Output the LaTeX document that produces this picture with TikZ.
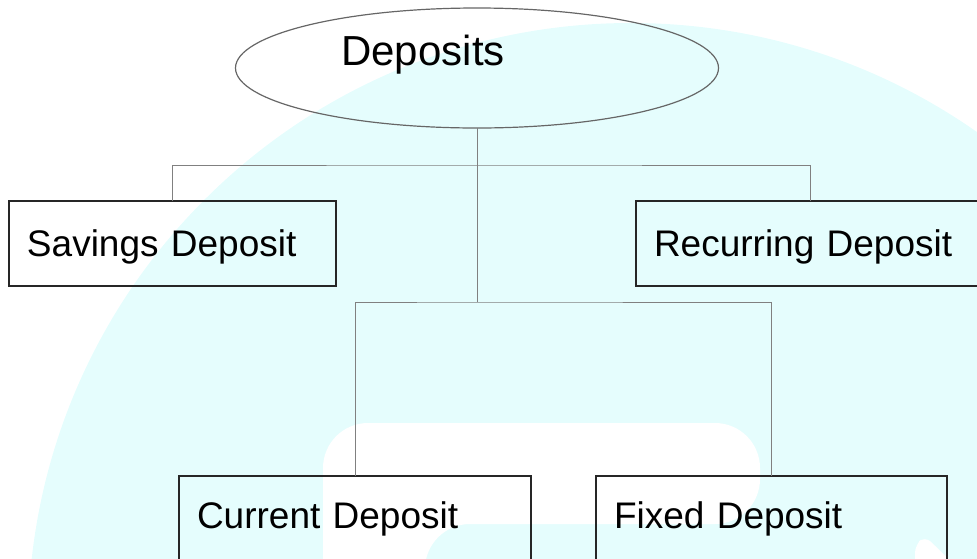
\documentclass[tikz,border=0pt]{standalone}
\usepackage{fontspec}
\setmainfont{Liberation Sans}
\usetikzlibrary{shapes.geometric}
\definecolor{wmcyan}{RGB}{229,253,253}
\tikzset{
	rootshape/.style={ellipse, draw=black!60, line width=1.2pt, minimum width=483pt, minimum height=120pt, inner sep=0pt, outer sep=0pt, font=\fontsize{42}{50}\selectfont, text height=20pt, text depth=26pt},
	depbox/.style={draw=black!85, line width=2pt, minimum height=85pt, inner xsep=18pt, inner ysep=0pt, outer sep=0pt, text width=#1, align=left, anchor=north west, font=\fontsize{37}{44}\selectfont, text depth=0pt},
	link/.style={line width=1pt, color=black!50}
}
\begin{document}
\begin{tikzpicture}[x=1pt, y=-1pt]
			%%%%% START %%%%%
			\useasboundingbox (0, 0) rectangle (977, 558);
			\clip (0, 0) rectangle (977, 558);
			
			% watermark
			\fill[wmcyan] (631, 626) circle (603pt);
			\fill[white, rounded corners=45pt] (323, 600) -- (323, 423) -- (760, 423) -- (760, 524) -- (425, 524) -- (425, 600) -- cycle;
			\fill[white, rounded corners=8pt] (915, 575) -- (915, 545) -- (925, 536) -- (965, 575) -- cycle;
			
			\coordinate (fork) at (477, 165);
			\coordinate (split) at (477, 302);
			
			\node[rootshape] (dep) at (477, 68) {Deposits\hspace*{108pt}};
			
			\node[depbox=291pt] (sav) at (9, 201) {Savings Deposit};
			\node[depbox=313pt] (rec) at (636, 201) {Recurring Deposit};
			\node[depbox=316pt, text depth=7pt] (cur) at (179, 476) {Current Deposit};
			\node[depbox=315pt, text depth=7pt] (fix) at (596, 476) {Fixed Deposit};
			
			\draw[link] (dep.south) -- (split);
			\draw[link] (sav.north) |- (fork) -| (rec.north);
			\draw[link] (cur.north) |- (split) -| (fix.north);
			
			%%%%% END %%%%%
\end{tikzpicture}
\end{document}
